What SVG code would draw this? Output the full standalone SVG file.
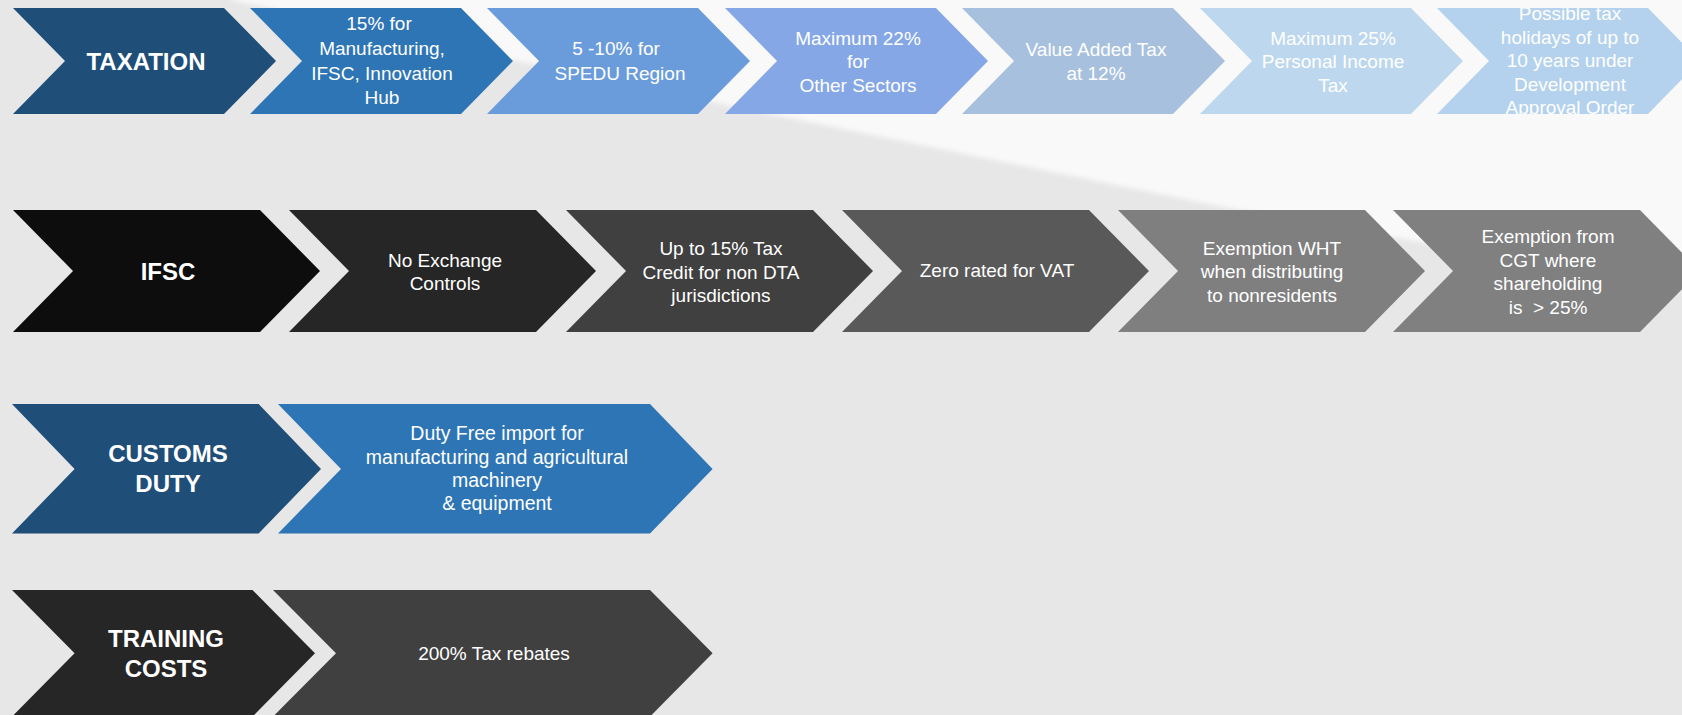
<svg xmlns="http://www.w3.org/2000/svg" width="1682" height="715" viewBox="0 0 1682 715">
<style>
.t{font-family:"Liberation Sans",Arial,sans-serif;font-size:19px;fill:#ffffff;text-anchor:middle}
.h{font-family:"Liberation Sans",Arial,sans-serif;font-size:24px;font-weight:bold;fill:#ffffff;text-anchor:middle}
</style>
<defs>
<filter id="soft" x="-5%" y="-5%" width="110%" height="110%"><feGaussianBlur stdDeviation="2.5"/></filter>
<clipPath id="clip7"><polygon points="1437,8 1648,8 1700,61 1648,114 1437,114 1489,61"/></clipPath>
</defs>
<g id="background">
<rect x="0" y="0" width="1682" height="715" fill="#e7e7e7"/>
<polygon points="232,-10 1700,-10 1700,291 1682,288 1228,208 785,117 518,61 232,0" fill="#f9f9f9" filter="url(#soft)"/>
</g>

<g id="row-taxation">
<g id="taxation"><polygon points="13,8 224,8 276,61 224,114 13,114 65,61" fill="#1f4e79"/><text class="h" x="146" y="69.5">TAXATION</text></g>
<g id="tax-15"><polygon points="250,8 461,8 513,61 461,114 250,114 302,61" fill="#2e75b6"/>
<text class="t"><tspan x="379" y="30">15% for</tspan><tspan x="382" y="55">Manufacturing,</tspan><tspan x="382" y="79.5">IFSC, Innovation</tspan><tspan x="382" y="104">Hub</tspan></text></g>
<g id="tax-spedu"><polygon points="487,8 698,8 750,61 698,114 487,114 539,61" fill="#6a9cdc"/>
<text class="t"><tspan x="616" y="55">5 -10% for</tspan><tspan x="620" y="80">SPEDU Region</tspan></text></g>
<g id="tax-22"><polygon points="725,8 936,8 988,61 936,114 725,114 777,61" fill="#85a7e6"/>
<text class="t"><tspan x="858" y="44.5">Maximum 22%</tspan><tspan x="858" y="68">for</tspan><tspan x="858" y="92">Other Sectors</tspan></text></g>
<g id="tax-vat"><polygon points="962,8 1173,8 1225,61 1173,114 962,114 1014,61" fill="#a7c0dd"/>
<text class="t"><tspan x="1096" y="56">Value Added Tax</tspan><tspan x="1096" y="80">at 12%</tspan></text></g>
<g id="tax-pit"><polygon points="1200,8 1411,8 1463,61 1411,114 1200,114 1252,61" fill="#bdd7ee"/>
<text class="t"><tspan x="1333" y="44.5">Maximum 25%</tspan><tspan x="1333" y="68">Personal Income</tspan><tspan x="1333" y="92">Tax</tspan></text></g>
<g id="tax-holiday"><polygon points="1437,8 1648,8 1700,61 1648,114 1437,114 1489,61" fill="#b4d2ed"/>
<text class="t" clip-path="url(#clip7)"><tspan x="1570" y="20">Possible tax</tspan><tspan x="1570" y="43.5">holidays of up to</tspan><tspan x="1570" y="67">10 years under</tspan><tspan x="1570" y="90.5">Development</tspan><tspan x="1570" y="114">Approval Order</tspan></text></g>
</g>

<g id="row-ifsc">
<g id="ifsc"><polygon points="13,210 260,210 320,271 260,332 13,332 73,271" fill="#0d0d0d"/><text class="h" x="168" y="279.5">IFSC</text></g>
<g id="ifsc-exchange"><polygon points="289,210 536,210 596,271 536,332 289,332 349,271" fill="#262626"/>
<text class="t"><tspan x="445" y="267">No Exchange</tspan><tspan x="445" y="290">Controls</tspan></text></g>
<g id="ifsc-credit"><polygon points="566,210 813,210 873,271 813,332 566,332 626,271" fill="#404040"/>
<text class="t"><tspan x="721" y="255">Up to 15% Tax</tspan><tspan x="721" y="279">Credit for non DTA</tspan><tspan x="721" y="302">jurisdictions</tspan></text></g>
<g id="ifsc-vat"><polygon points="842,210 1089,210 1149,271 1089,332 842,332 902,271" fill="#595959"/>
<text class="t" x="997" y="277">Zero rated for VAT</text></g>
<g id="ifsc-wht"><polygon points="1118,210 1365,210 1425,271 1365,332 1118,332 1178,271" fill="#7f7f7f"/>
<text class="t"><tspan x="1272" y="255">Exemption WHT</tspan><tspan x="1272" y="278">when distributing</tspan><tspan x="1272" y="302">to nonresidents</tspan></text></g>
<g id="ifsc-cgt"><polygon points="1393,210 1640,210 1700,271 1640,332 1393,332 1453,271" fill="#808080"/>
<text class="t"><tspan x="1548" y="243">Exemption from</tspan><tspan x="1548" y="267">CGT where</tspan><tspan x="1548" y="290">shareholding</tspan><tspan x="1548" y="314">is &#160;&gt; 25%</tspan></text></g>
</g>

<g id="row-customs">
<g id="customs"><polygon points="12,404 258.6,404 321,469 258.6,533.5 12,533.5 74.6,469" fill="#1f4e79"/>
<text class="h"><tspan x="168" y="461.5">CUSTOMS</tspan><tspan x="168" y="491.5">DUTY</tspan></text></g>
<g id="customs-duty-free"><polygon points="278,404 650,404 712.6,469 650,533.5 278,533.5 341,469" fill="#2e75b6"/>
<text class="t" style="font-size:19.5px"><tspan x="497" y="440">Duty Free import for</tspan><tspan x="497" y="464">manufacturing and agricultural</tspan><tspan x="497" y="487">machinery</tspan><tspan x="497" y="510">&amp; equipment</tspan></text></g>
</g>

<g id="row-training">
<g id="training"><polygon points="12,590 252.5,590 315,653.3 252.5,716.6 12,716.6 74.6,653.3" fill="#262626"/>
<text class="h"><tspan x="166" y="646.5">TRAINING</tspan><tspan x="166" y="676.5">COSTS</tspan></text></g>
<g id="training-rebates"><polygon points="273,590 650,590 712.6,653.3 650,716.6 273,716.6 336,653.3" fill="#404040"/>
<text class="t" x="494" y="660">200% Tax rebates</text></g>
</g>
<g id="connectors"/>
</svg>
